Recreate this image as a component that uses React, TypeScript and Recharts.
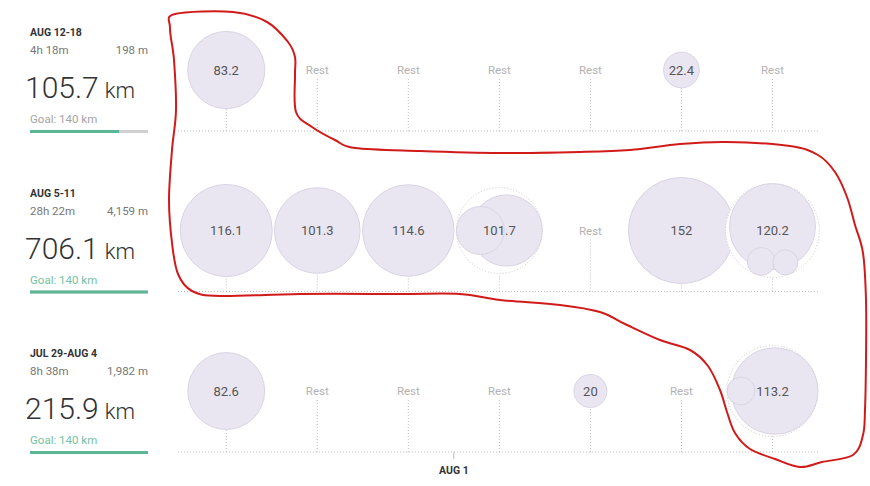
import React from 'react';
import { ScatterChart, Scatter, XAxis, YAxis, ZAxis, ReferenceLine } from 'recharts';

// ---------- data ----------
const weekLabels = ['AUG 12-18', 'AUG 5-11', 'JUL 29-AUG 4'];
const weekTimes = ['4h 18m', '28h 22m', '8h 38m'];
const weekElevations = ['198 m', '4,159 m', '1,982 m'];
const weekDistances = [105.7, 706.1, 215.9];
const weeklyGoal = 140;

// activities (km) per day, Monday..Sunday; empty = Rest
const week1Activities: number[][] = [[83.2], [], [], [], [], [22.4], []];
const week2Activities: number[][] = [[116.1], [101.3], [114.6], [70.0, 31.7], [], [152], [101.1, 10.6, 8.5]];
const week3Activities: number[][] = [[82.6], [], [], [], [20], [], [102.6, 10.6]];

const monthTicks = [2.5];
const monthTickLabels = ['AUG 1'];

// ---------- layout / style ----------
const W = 870;
const H = 486;
const M_TOP = 70;
const M_LEFT = 178;
const M_RIGHT = 52;
const XAXIS_H = 34;
const X_DOMAIN: [number, number] = [-0.53, 6.5];
const BASE_OFF = 0.38;
const Y_MAX = 2 + BASE_OFF;
const ROW_PX = (H - M_TOP - XAXIS_H) / Y_MAX;
const FONT = 'Roboto, "Noto Sans", sans-serif';
const BUBBLE_FILL = '#e9e6f1';
const BUBBLE_STROKE = '#d9d4e4';
const DOT = '#bdbdbd';

// placement angle (deg) of each activity circle inside a multi-activity day
const subCircleAngles: Record<string, number[]> = {
  '1-3': [0, 180],
  '1-6': [-90, 110, 68],
  '2-6': [0, 180],
};

const allWeeks = [week1Activities, week2Activities, week3Activities];

type Pt = { id: string; day: number; row: number; total?: number; acts: number[]; rest: boolean };

const points: Pt[] = allWeeks.flatMap((week, row) =>
  week.map((acts, day) => {
    const id = `${row}-${day}`;
    if (!acts.length) return { id, day, row, acts, rest: true };
    const total = Math.round(acts.reduce((a, b) => a + b, 0) * 10) / 10;
    return { id, day, row, total, acts, rest: false };
  })
);

const Stem = (props: any) => {
  const { cx, cy, payload } = props;
  if (cx == null || cy == null) return null;
  const y1 = payload.rest ? cy + 9 : cy;
  return (
    <line x1={cx} x2={cx} y1={y1} y2={cy + BASE_OFF * ROW_PX} stroke={DOT} strokeDasharray="1 2" />
  );
};

const Bubble = (props: any) => {
  const { cx, cy, width, payload } = props;
  if (cx == null || cy == null) return null;
  if (payload.rest) {
    return (
      <text x={cx} y={cy} dy="0.35em" textAnchor="middle" fontSize={11.5} fill="#b3b3b3" fontFamily={FONT}>
        Rest
      </text>
    );
  }
  const R = width / 2;
  const acts: number[] = payload.acts;
  const multi = acts.length > 1;
  const angles = subCircleAngles[payload.id] || [];
  return (
    <g>
      {multi && <circle cx={cx} cy={cy} r={R} fill="#fff" stroke="#c9c9c9" strokeDasharray="1 2" />}
      {acts.map((v, i) => {
        const r = multi ? R * Math.sqrt(v / payload.total) : R;
        const d = R - r;
        const a = ((angles[i] || 0) * Math.PI) / 180;
        return (
          <circle
            key={i}
            cx={cx + d * Math.cos(a)}
            cy={cy + d * Math.sin(a)}
            r={r}
            fill={BUBBLE_FILL}
            stroke={BUBBLE_STROKE}
          />
        );
      })}
      <text x={cx} y={cy} dy="0.35em" textAnchor="middle" fontSize={13} fill="#555" fontFamily={FONT}>
        {String(payload.total)}
      </text>
    </g>
  );
};

function smoothClosed(pts: number[][]) {
  const n = pts.length;
  let d = `M${pts[0][0]},${pts[0][1]}`;
  for (let i = 0; i < n; i++) {
    const p0 = pts[(i - 1 + n) % n];
    const p1 = pts[i];
    const p2 = pts[(i + 1) % n];
    const p3 = pts[(i + 2) % n];
    const c1x = p1[0] + (p2[0] - p0[0]) / 6;
    const c1y = p1[1] + (p2[1] - p0[1]) / 6;
    const c2x = p2[0] - (p3[0] - p1[0]) / 6;
    const c2y = p2[1] - (p3[1] - p1[1]) / 6;
    d += ` C${c1x},${c1y} ${c2x},${c2y} ${p2[0]},${p2[1]}`;
  }
  return d + 'Z';
}

// hand-drawn red annotation outline (decoration)
const annotationOutline = [
  [175, 14], [233, 12], [267, 22], [288, 42], [295, 57], [295, 75], [296, 112], [312, 127], [335, 140],
  [355, 148], [420, 151], [500, 153], [580, 152], [630, 150], [680, 144], [727, 142], [790, 146],
  [818, 155], [835, 172], [847, 197], [855, 225], [863, 253], [866, 300], [866, 360], [865, 410],
  [863, 435], [853, 455], [822, 462], [800, 467], [775, 459], [750, 449], [735, 433], [727, 412],
  [720, 390], [708, 366], [690, 350], [660, 340], [625, 324], [600, 312], [560, 305], [500, 300],
  [460, 294], [400, 294], [300, 294], [220, 296], [192, 291], [178, 274], [172, 243], [169, 200],
  [172, 150], [176, 110], [174, 60], [170, 28],
];

const WeekPanel = () => (
  <svg width={W} height={H} style={{ position: 'absolute', left: 0, top: 0 }} fontFamily={FONT}>
    {weekLabels.map((label, i) => {
      const cy = M_TOP + i * ROW_PX;
      const met = weekDistances[i] >= weeklyGoal;
      const frac = Math.min(1, weekDistances[i] / weeklyGoal);
      const barW = 118;
      return (
        <g key={label}>
          <text x={30} y={cy - 34} fontSize={10.5} fontWeight={700} fill="#333">{label}</text>
          <text x={30} y={cy - 16} fontSize={11.5} fill="#777">{weekTimes[i]}</text>
          <text x={148} y={cy - 16} fontSize={11.5} fill="#777" textAnchor="end">{weekElevations[i]}</text>
          <text x={25} y={cy + 28} fontSize={30} fontWeight={300} fill="#333">
            {weekDistances[i].toFixed(1)}
            <tspan fontSize={22} dx={6}>km</tspan>
          </text>
          <text x={30} y={cy + 53} fontSize={11.5} fill={met ? '#72c2a4' : '#a3a3a3'}>
            {`Goal: ${weeklyGoal} km`}
          </text>
          <rect x={30} y={cy + 60} width={barW} height={3} fill="#d0d0d0" />
          <rect x={30} y={cy + 60} width={barW * frac} height={3} fill="#5bb794" />
        </g>
      );
    })}
  </svg>
);

export default function App() {
  return (
    <div style={{ position: 'absolute', left: 0, top: 0, width: W, height: H, background: '#fff', overflow: 'hidden' }}>
      <WeekPanel />
      <div style={{ position: 'absolute', left: 0, top: 0 }}>
        <ScatterChart width={W} height={H} margin={{ top: M_TOP, left: M_LEFT, right: M_RIGHT, bottom: 0 }}>
          <XAxis
            type="number"
            dataKey="day"
            domain={X_DOMAIN}
            ticks={monthTicks}
            interval={0}
            tickFormatter={(v: number) => monthTickLabels[monthTicks.indexOf(v)] ?? ''}
            axisLine={false}
            tickLine={{ stroke: '#bbb' }}
            tickSize={7}
            tickMargin={8}
            height={XAXIS_H}
            tick={{ fontSize: 10.5, fontWeight: 700, fill: '#333', fontFamily: FONT }}
          />
          <YAxis type="number" dataKey="row" domain={[0, Y_MAX]} reversed hide />
          <ZAxis type="number" dataKey="total" domain={[5.8, 152]} range={[0, Math.PI * 53 * 53]} />
          {[0, 1, 2].map((r) => (
            <ReferenceLine key={r} y={r + BASE_OFF} stroke={DOT} strokeDasharray="1 2" ifOverflow="visible" />
          ))}
          <Scatter data={points} shape={Stem} isAnimationActive={false} />
          <Scatter data={points} shape={Bubble} isAnimationActive={false} />
        </ScatterChart>
      </div>
      <svg width={W} height={H} style={{ position: 'absolute', left: 0, top: 0, pointerEvents: 'none' }}>
        <path d={smoothClosed(annotationOutline)} fill="none" stroke="#d11a1a" strokeWidth={2} strokeLinejoin="round" />
      </svg>
    </div>
  );
}
